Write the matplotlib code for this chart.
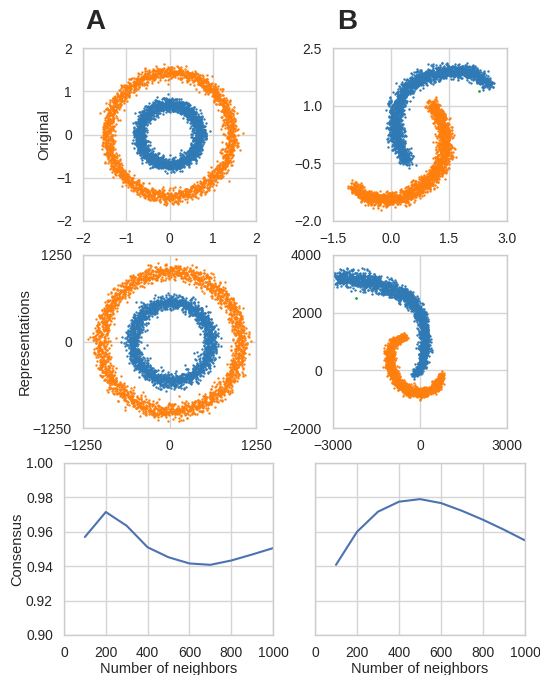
import numpy as np
import matplotlib.pyplot as plt
import seaborn as sns

sns.set_theme(style="whitegrid")
plt.rcParams["font.family"] = ["Liberation Sans", "DejaVu Sans"]
plt.rcParams["axes.edgecolor"] = "#cccccc"
plt.rcParams["grid.color"] = "#d5d5d5"
plt.rcParams["xtick.labelsize"] = 10
plt.rcParams["ytick.labelsize"] = 10
plt.rcParams["axes.labelsize"] = 10.5

BLUE = "#2f79b5"
ORANGE = "#ff7f0e"
LINE = "#4c72b0"

# ---- consensus curves ----
neighbors = [100, 200, 300, 400, 500, 600, 700, 800, 900, 1000]
consensus_circles = [0.957, 0.9715, 0.9635, 0.951, 0.9452, 0.9416, 0.9408, 0.9433, 0.9468, 0.9505]
consensus_moons = [0.9408, 0.960, 0.9717, 0.9775, 0.979, 0.9767, 0.9722, 0.967, 0.9612, 0.955]

# ---- ring shapes: (center x, center y, radius, spread) ----
circ_orig_inner = (0.0, 0.0, 0.70, 0.075)
circ_orig_outer = (0.0, 0.0, 1.43, 0.08)
circ_rep_inner = (30.0, 0.0, 570.0, 55.0)
circ_rep_outer = (15.0, -5.0, 1010.0, 60.0)

# ---- moon centerlines and band spread ----
moon_orig_blue_x = [0.42, 0.2, 0.09, 0.15, 0.37, 0.75, 1.35, 1.87, 2.25, 2.55]
moon_orig_blue_y = [-0.45, -0.06, 0.46, 0.98, 1.42, 1.72, 1.9, 1.9, 1.77, 1.55]
moon_orig_blue_s = [0.08, 0.09, 0.1, 0.1, 0.1, 0.1, 0.09, 0.09, 0.08, 0.07]
moon_orig_orange_x = [1.05, 1.23, 1.4, 1.4, 1.27, 0.93, 0.33, -0.19, -0.7, -1.0]
moon_orig_orange_y = [1.07, 0.76, 0.29, -0.15, -0.59, -1.02, -1.37, -1.46, -1.33, -1.11]
moon_orig_orange_s = [0.07, 0.08, 0.1, 0.1, 0.1, 0.1, 0.1, 0.09, 0.08, 0.07]
moon_orig_green = ([2.27], [1.37])

moon_rep_blue_x = [-2880, -2300, -1730, -1150, -577, -173, 58, 173, 138, 58, -173]
moon_rep_blue_y = [3220, 3160, 3050, 2870, 2640, 2290, 1830, 1190, 605, 140, -150]
moon_rep_blue_s = [120, 150, 160, 150, 130, 110, 100, 90, 80, 70, 60]
moon_rep_orange_x = [-519, -865, -1061, -1038, -807, -346, 115, 519, 750]
moon_rep_orange_y = [1163, 1012, 663, 140, -384, -733, -791, -616, -151]
moon_rep_orange_s = [60, 70, 80, 80, 75, 75, 75, 70, 60]
moon_rep_green = ([-2190], [2520])

rng = np.random.default_rng(3)
N = 2200


def ring(spec, n=N):
    cx, cy, r, s = spec
    t = np.linspace(0, 2 * np.pi, n, endpoint=False)
    rr = r + rng.normal(0, s, n)
    return cx + rr * np.cos(t), cy + rr * np.sin(t)


def band(xs, ys, ss, n=N):
    xs, ys = np.asarray(xs, float), np.asarray(ys, float)
    seg = np.hypot(np.diff(xs), np.diff(ys))
    cum = np.concatenate([[0], np.cumsum(seg)])
    u = np.linspace(0, cum[-1], n)
    s = np.interp(u, cum, ss)
    px = np.interp(u, cum, xs) + rng.normal(0, 1, n) * s
    py = np.interp(u, cum, ys) + rng.normal(0, 1, n) * s
    return px, py


fig = plt.figure(figsize=(5.4, 6.75), dpi=100)

W, H = 540.0, 675.0


def add_ax(l, t, r, b):
    return fig.add_axes([l / W, 1 - b / H, (r - l) / W, (b - t) / H])


ax1 = add_ax(83, 48, 256, 221)
ax2 = add_ax(333, 48, 507, 221)
ax3 = add_ax(83, 255, 256, 428)
ax4 = add_ax(333, 255, 507, 428)
ax5 = add_ax(64, 463, 273, 635)
ax6 = add_ax(315, 463, 525, 635)

ms = 3.0
# circles original
x, y = ring(circ_orig_outer)
ax1.scatter(x, y, s=ms, c=ORANGE, lw=0)
x, y = ring(circ_orig_inner)
ax1.scatter(x, y, s=ms, c=BLUE, lw=0)
ax1.set_xlim(-2, 2)
ax1.set_ylim(-2, 2)
ax1.set_xticks([-2, -1, 0, 1, 2])
ax1.set_yticks([-2, -1, 0, 1, 2])
ax1.set_ylabel("Original", labelpad=3)

# moons original
x, y = band(moon_orig_blue_x, moon_orig_blue_y, moon_orig_blue_s)
ax2.scatter(x, y, s=ms, c=BLUE, lw=0)
x, y = band(moon_orig_orange_x, moon_orig_orange_y, moon_orig_orange_s)
ax2.scatter(x, y, s=ms, c=ORANGE, lw=0)
ax2.scatter(*moon_orig_green, s=ms + 1, c="#2ca02c", lw=0)
ax2.set_xlim(-1.5, 3.0)
ax2.set_ylim(-2.0, 2.5)
ax2.set_xticks([-1.5, 0.0, 1.5, 3.0])
ax2.set_yticks([-2.0, -0.5, 1.0, 2.5])

# circles representations
x, y = ring(circ_rep_outer)
ax3.scatter(x, y, s=ms, c=ORANGE, lw=0)
x, y = ring(circ_rep_inner)
ax3.scatter(x, y, s=ms, c=BLUE, lw=0)
ax3.set_xlim(-1250, 1250)
ax3.set_ylim(-1250, 1250)
ax3.set_xticks([-1250, 0, 1250])
ax3.set_yticks([-1250, 0, 1250])
ax3.set_ylabel("Representations", labelpad=1)

# moons representations
x, y = band(moon_rep_blue_x, moon_rep_blue_y, moon_rep_blue_s)
ax4.scatter(x, y, s=ms, c=BLUE, lw=0)
x, y = band(moon_rep_orange_x, moon_rep_orange_y, moon_rep_orange_s)
ax4.scatter(x, y, s=ms, c=ORANGE, lw=0)
ax4.scatter(*moon_rep_green, s=ms + 1, c="#2ca02c", lw=0)
ax4.set_xlim(-3000, 3000)
ax4.set_ylim(-2000, 4000)
ax4.set_xticks([-3000, 0, 3000])
ax4.set_yticks([-2000, 0, 2000, 4000])

# consensus
ax5.plot(neighbors, consensus_circles, color=LINE, lw=1.5)
ax6.plot(neighbors, consensus_moons, color=LINE, lw=1.5)
for ax in (ax5, ax6):
    ax.set_xlim(0, 1000)
    ax.set_ylim(0.90, 1.00)
    ax.set_xticks([0, 200, 400, 600, 800, 1000])
    ax.set_yticks([0.90, 0.92, 0.94, 0.96, 0.98, 1.00])
    ax.set_xlabel("Number of neighbors", labelpad=1)
ax5.set_yticklabels(["0.90", "0.92", "0.94", "0.96", "0.98", "1.00"])
ax6.set_yticklabels([])
ax5.set_ylabel("Consensus", labelpad=1)

for ax in (ax1, ax2, ax3, ax4, ax5, ax6):
    ax.tick_params(pad=2)
    for sp in ax.spines.values():
        sp.set_linewidth(1.0)

fig.text(95 / W, 1 - 22 / H, "A", fontsize=20, fontweight="bold", ha="center", va="center")
fig.text(347 / W, 1 - 22 / H, "B", fontsize=20, fontweight="bold", ha="center", va="center")

fig.savefig("out.png", dpi=100)
